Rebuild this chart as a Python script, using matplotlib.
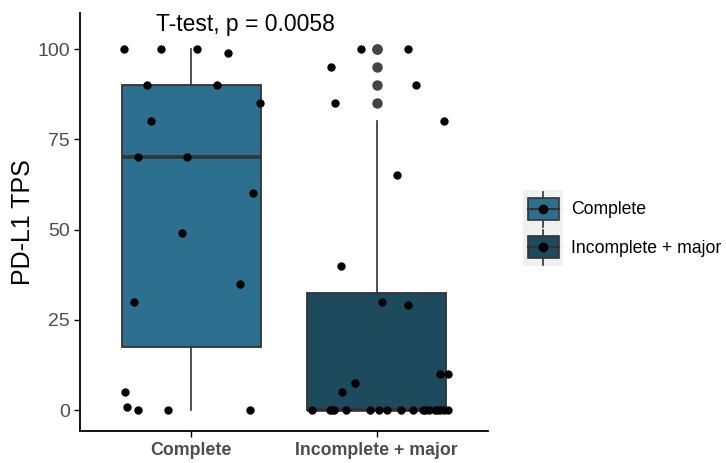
import matplotlib
matplotlib.use("Agg")
import matplotlib.pyplot as plt
from matplotlib.legend_handler import HandlerBase
from matplotlib.patches import Patch, Rectangle
from matplotlib.lines import Line2D

# grupos y valores
groups = ["Complete", "Incomplete + major"]
colors = ["#2d6f8e", "#1e4a5e"]

complete_tps = [100, 100, 100, 99, 90, 90, 85, 80, 70, 70, 60, 49, 35, 30, 5, 1, 0, 0, 0]
complete_jit = [-0.36, -0.16, 0.03, 0.20, -0.24, 0.14, 0.37, -0.215, -0.285, -0.02,
                0.333, -0.05, 0.263, -0.31, -0.355, -0.344, -0.285, -0.124, 0.317]

incomplete_tps = [100, 100, 95, 90, 85, 80, 65, 40, 30, 29, 10, 10, 7.5, 5,
                  0, 0, 0, 0, 0, 0, 0, 0, 0, 0, 0, 0, 0, 0, 0, 0, 0, 0]
incomplete_jit = [-0.086, 0.172, -0.247, 0.215, -0.226, 0.366, 0.108, -0.194, 0.027, 0.172,
                  0.344, 0.387, -0.118, -0.188,
                  -0.35, -0.253, -0.231, -0.167, -0.038, 0.011, 0.054, 0.129, 0.194,
                  0.263, 0.280, 0.317, 0.328, 0.344, 0.366, 0.387, -0.24, 0.25]

plt.rcParams['font.family'] = ['Liberation Sans', 'DejaVu Sans']

fig = plt.figure(figsize=(7.26, 4.63), dpi=100)
ax = fig.add_axes([0.110, 0.069, 0.562, 0.903])

data = [complete_tps, incomplete_tps]
bp = ax.boxplot(data, positions=[1, 2], widths=0.75, patch_artist=True, whis=1.5,
                boxprops=dict(edgecolor="#333333", linewidth=1.3),
                medianprops=dict(color="#333333", linewidth=2.6),
                whiskerprops=dict(color="#333333", linewidth=1.2),
                capprops=dict(linewidth=0),
                flierprops=dict(marker="o", markerfacecolor="#444444",
                                markeredgecolor="#444444", markersize=6.5))
for patch, c in zip(bp["boxes"], colors):
    patch.set_facecolor(c)

# puntos con jitter
ax.scatter([1 + j for j in complete_jit], complete_tps, s=25, color="black", zorder=3)
ax.scatter([2 + j for j in incomplete_jit], incomplete_tps, s=25, color="black", zorder=3)

ax.text(0.81, 106.8, "T-test, p = 0.0058", fontsize=16.5, ha="left", va="center")

ax.set_xlim(0.4, 2.6)
ax.set_ylim(-5.8, 110)
ax.set_yticks([0, 25, 50, 75, 100])
ax.set_xticks([1, 2])
ax.set_xticklabels(groups, fontsize=12.8, fontweight="bold", color="#4d4d4d")
ax.tick_params(axis="y", labelsize=14, labelcolor="#4d4d4d", length=4, width=1, pad=3)
ax.tick_params(axis="x", length=4, width=1, pad=4)
ax.set_ylabel("PD-L1 TPS", fontsize=18, labelpad=2)
for s in ["top", "right"]:
    ax.spines[s].set_visible(False)
for s in ["left", "bottom"]:
    ax.spines[s].set_linewidth(1.3)


class BoxKey(HandlerBase):
    def create_artists(self, legend, orig_handle, xdescent, ydescent,
                       width, height, fontsize, trans):
        bg = Rectangle((-xdescent, -ydescent), width, height, facecolor="#f0f0f0",
                       edgecolor="none", transform=trans)
        cx = -xdescent + width / 2
        bw, bh = width * 0.76, height * 0.58
        wl = Line2D([cx, cx], [-ydescent + 1, -ydescent + height - 1], color="#333333",
                    lw=1.2, transform=trans)
        box = Rectangle((cx - bw / 2, -ydescent + (height - bh) / 2), bw, bh,
                        facecolor=orig_handle.get_facecolor(), edgecolor="#333333",
                        lw=1.2, transform=trans)
        med = Line2D([cx - bw / 2, cx + bw / 2], [-ydescent + height / 2] * 2,
                     color="#333333", lw=1.5, transform=trans)
        dot = Line2D([cx], [-ydescent + height / 2], marker="o", color="black",
                     markersize=6, transform=trans)
        return [bg, wl, box, med, dot]


handles = [Patch(facecolor=c) for c in colors]
fig.legend(handles, groups, handler_map={Patch: BoxKey()},
           loc="center left", bbox_to_anchor=(0.708, 0.507), frameon=False,
           fontsize=12.7, handlelength=2.3, handleheight=2.95,
           handletextpad=0.45, labelspacing=0.0, borderpad=0)

fig.savefig("out.png", dpi=100)
